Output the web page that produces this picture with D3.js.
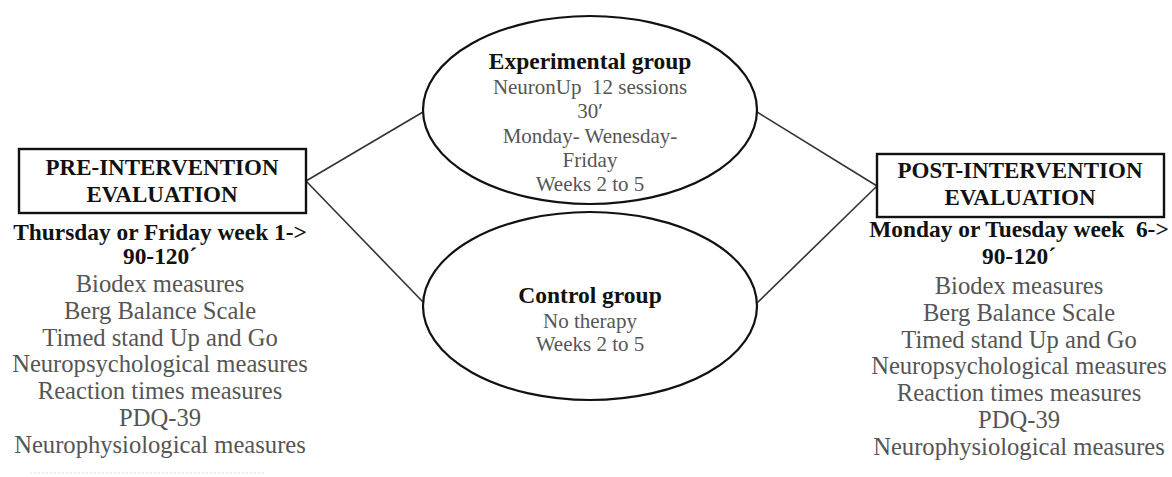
<!DOCTYPE html>
<html lang="en">
<head>
    <meta charset="UTF-8">
    <title>study-design</title>
    <script src="https://cdn.jsdelivr.net/npm/d3@7/dist/d3.min.js"></script>
    <style>
        body{ margin: 0; background: #fff; }
        svg text{ font-family: "Liberation Serif", "Times New Roman", serif; white-space: pre; }
        .bold{ font-weight: bold; fill: #111; }
        .plain{ fill: #555; }
    </style>
</head>
<body>
<svg class="graph"></svg>
</body>
<script>
    var width = 1172;
    var height = 477;

    // box titles
    var preTitle = ['PRE-INTERVENTION', 'EVALUATION'];
    var postTitle = ['POST-INTERVENTION', 'EVALUATION'];

    // bold lines under the boxes
    var preWhen = ['Thursday or Friday week 1->', '90-120\u00b4'];
    var postWhen = ['Monday or Tuesday week  6->', '90-120\u00b4'];

    // measures (same on both sides)
    var measures = ['Biodex measures', 'Berg Balance Scale', 'Timed stand Up and Go',
        'Neuropsychological measures', 'Reaction times measures', 'PDQ-39',
        'Neurophysiological measures'];

    // groups
    var expTitle = 'Experimental group';
    var expLines = ['NeuronUp  12 sessions', '30\u2032', 'Monday- Wenesday-', 'Friday', 'Weeks 2 to 5'];
    var ctlTitle = 'Control group';
    var ctlLines = ['No therapy', 'Weeks 2 to 5'];

    var svg = d3.select('.graph')
        .attr('width', width)
        .attr('height', height);

    // layout
    var leftX = 160, rightX = 1019, midX = 590;
    var expY = 110, ctlY = 306, rx = 167, ry = 94;

    // connector lines
    var links = [
        [306, 181, 423, 112], [306, 181, 423, 302],
        [757, 112, 877, 186], [757, 303, 877, 186]
    ];
    svg.append('g').selectAll('line')
        .data(links).enter().append('line')
        .attr('x1', function (d) { return d[0]; })
        .attr('y1', function (d) { return d[1]; })
        .attr('x2', function (d) { return d[2]; })
        .attr('y2', function (d) { return d[3]; })
        .attr('stroke', '#333')
        .attr('stroke-width', 1.6);

    // ellipses
    svg.append('g').selectAll('ellipse')
        .data([expY, ctlY]).enter().append('ellipse')
        .attr('cx', midX)
        .attr('cy', function (d) { return d; })
        .attr('rx', rx)
        .attr('ry', ry)
        .attr('fill', '#fff')
        .attr('stroke', '#111')
        .attr('stroke-width', 2.2);

    // boxes
    var boxes = [
        {x: 19, y: 149, w: 287, h: 64},
        {x: 877, y: 154, w: 287, h: 63}
    ];
    svg.append('g').selectAll('rect')
        .data(boxes).enter().append('rect')
        .attr('x', function (d) { return d.x; })
        .attr('y', function (d) { return d.y; })
        .attr('width', function (d) { return d.w; })
        .attr('height', function (d) { return d.h; })
        .attr('fill', '#fff')
        .attr('stroke', '#111')
        .attr('stroke-width', 2.4);

    function lines(g, data, x, y0, step, cls, size) {
        var y = d3.scaleLinear().domain([0, 1]).range([y0, y0 + step]);
        g.selectAll(null)
            .data(data).enter().append('text')
            .attr('class', cls)
            .attr('x', x)
            .attr('y', function (d, i) { return y(i); })
            .attr('text-anchor', 'middle')
            .attr('font-size', size)
            .text(function (d) { return d; });
    }

    var t = svg.append('g');
    // left column
    lines(t, preTitle, 162, 175, 27, 'bold', 23);
    lines(t, preWhen, leftX, 240, 24, 'bold', 23.4);
    lines(t, measures, leftX, 292, 26.8, 'plain', 24.6);
    // right column
    lines(t, postTitle, 1020, 178, 27, 'bold', 23);
    lines(t, postWhen, rightX, 237, 27, 'bold', 23.4);
    lines(t, measures, rightX, 294, 26.8, 'plain', 24.6);
    // experimental group
    lines(t, [expTitle], midX, 69, 24, 'bold', 23.5);
    lines(t, expLines, midX, 94, 24.3, 'plain', 21);
    // control group
    lines(t, [ctlTitle], midX, 303, 24, 'bold', 23.5);
    lines(t, ctlLines, midX, 328, 23, 'plain', 21);

    // faint dotted rule under the left column
    svg.append('line')
        .attr('x1', 30).attr('x2', 265)
        .attr('y1', 473).attr('y2', 473)
        .attr('stroke', '#ddd')
        .attr('stroke-dasharray', '2,2');
</script>
</html>
